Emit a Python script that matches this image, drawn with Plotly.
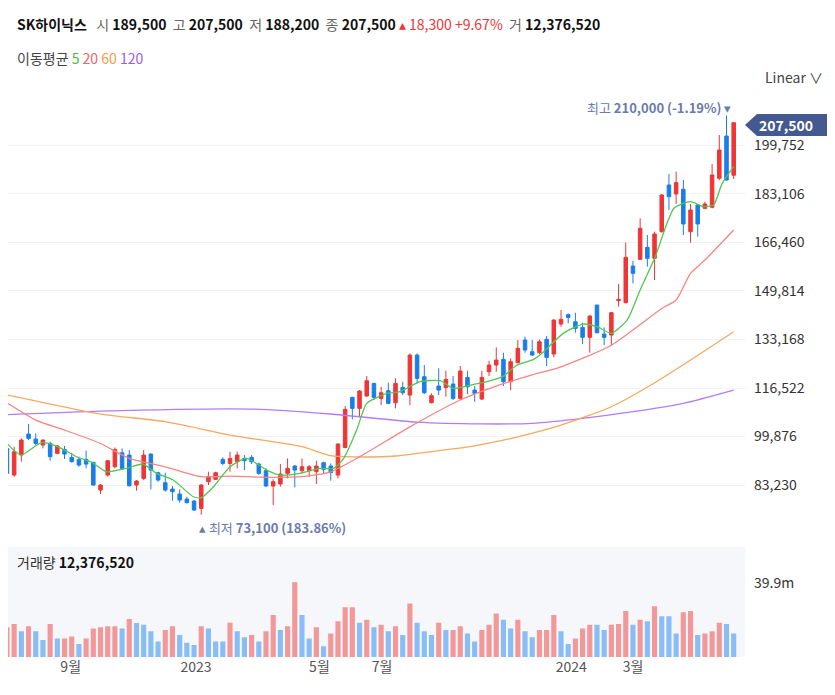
import plotly.graph_objects as go
import pandas as pd

start = pd.Timestamp("2022-06-24")
opens = [96390,95800,86670,93530,100730,99020,96960,97530,94100,95470,92730,92045,92045,91020,81530,86670,89530,94330,93530,83245,85530,93875,87480,84050,81870,80160,78440,77760,75240,84390,
         85200,92045,90670,91245,92390,92730,90445,88160,82900,83590,87250,89760,88160,88160,87820,90900,89760,86670,96160,113300,109530,113760,118100,112960,115590,111480,116730,114100,127820,120395,
         111480,117200,116730,117880,112960,120165,115820,112740,122110,124400,126340,118680,125195,132970,128970,128625,133200,128170,138455,141655,139255,137310,133885,144970,135025,134685,146470,145790,158360,160650,
         164760,160990,170140,186140,183050,184660,170140,179280,178140,178480,188430,202940,189500]
highs = [97500,96600,96400,99245,104160,100960,98900,98100,96960,96620,94330,92960,95020,91245,83590,91820,96160,95820,95250,84960,95250,94100,87820,87480,82900,81760,79240,78100,83590,87820,
         87820,92730,94675,94675,93530,93530,90900,88960,85200,90445,92390,90100,92390,90100,91590,91245,90670,97530,110330,113530,115820,120620,118330,116960,118330,119820,118670,128390,128390,124400,
         114680,123250,122450,120620,124055,122450,117200,122450,125880,130460,128625,126680,132970,134115,132970,133200,134340,140055,143260,142110,142340,138910,141430,144970,137310,142570,152190,166360,160190,174710,
         168990,170140,183050,189910,190710,187850,179630,179630,180420,193340,203280,210000,207500]
lows = [86000,86700,86100,91240,98675,96960,95820,91590,93875,92160,91000,89530,88960,83020,80160,86100,88960,88390,82670,81300,84960,81760,84390,80960,77870,77190,76960,74440,73100,83245,
        84960,90100,87820,88960,88390,90445,86670,82670,76390,82670,85530,82440,87480,86100,83590,87250,84740,85530,95820,105760,106450,113530,112390,110670,111020,109530,114100,110670,118100,114450,
        111250,114110,113540,112390,112390,114450,111820,112390,120620,122110,117200,115820,124970,128625,127480,128170,124055,127025,137540,138680,135480,131600,128625,135255,131255,131255,144410,145560,152420,160420,
        158140,153560,169800,177570,179630,168990,166360,168420,177800,178140,187850,187620,188200]
closes = [87245,87250,94675,98675,99245,97530,98675,92960,96620,93875,91245,90100,90445,83245,83245,91590,95475,88960,83020,84620,93530,88390,84960,81530,80960,78100,77190,74670,83245,86100,
          87480,90670,92390,93530,91590,91245,87250,82900,84390,87020,88960,88390,89530,89530,89760,88620,87480,97300,109190,109530,115475,119020,113300,114900,111250,118100,114900,127820,119820,114910,
          113880,115820,119480,112960,122340,116960,114680,120165,124400,126110,118680,125540,130115,129545,127825,132400,127025,139825,140055,140740,136970,133885,141200,135480,133885,142340,146930,161335,155850,171280,
          160990,169340,182710,182140,186940,172770,177570,172770,179630,189570,198140,187850,207500]
volumes_m = [15.3,16,17.8,13.8,16.5,13.8,9.2,17.8,9.9,9.9,11.1,7,9.9,15.3,16,16.5,16.5,15.3,20.5,18.3,17.3,13.8,8.4,14.6,16.5,11.9,7.7,6.5,16.5,15.3,
             8.4,8.4,18.5,13.8,10.6,11.9,8.4,13.8,22.6,14.6,16.5,40.3,22.6,9.9,16,5.8,12.6,19.2,26.8,26.8,18.5,20,16,17.3,13.8,16.5,11.9,28.8,18.5,13.8,
             11.9,18.5,14.6,14.6,16.5,12.6,8.4,14.6,17.3,23.4,20,15.3,20,13.8,10.6,14.6,14.6,22.6,13.8,7,9.9,15.3,17.3,17.3,14.6,17.3,17.8,24.8,17.3,20,
             19.2,27.3,21.9,21.9,12.6,24.1,24.8,11.9,12.6,13.8,18.5,17.8,12.6]
vol_dir = ["d","u","u","d","u","d","d","u","d","u","u","d","u","u","u","u","u","d","u","d","d","d","d","u","u","d","d","d","u","d",
           "d","d","u","d","d","u","d","u","u","d","u","u","d","d","u","d","u","u","u","u","d","u","d","u","d","u","d","u","d","d",
           "d","u","d","u","u","d","d","u","u","u","d","d","u","d","d","u","u","u","d","d","u","u","u","d","d","u","u","u","d","u",
           "d","u","d","d","d","u","u","d","u","u","u","d","d"]

ma5_idx = [0,1.9,3,5.8,7.9,10.7,12.9,14.8,17.6,19.9,21.8,24.1,26.9,28,29.7,32,34.3,37.1,38.9,41.7,44.5,46.4,47.8,49.6,51,53.8,55.6,58.4,61.2,63,65.4,67.7,70,71.9,74.2,75.6,78.3,81.1,83,85,87.2,89,91.1,93.7,96,97.8,99.2,100.4,102]
ma5_val = [100390,95250,93530,97760,96620,92960,90900,87820,88960,90450,87250,84960,79240,78900,82670,89530,92390,88390,86670,87250,88960,88960,92390,102100,111250,114680,115250,118680,119020,116400,117540,118680,120620,124400,126340,128970,135255,138450,137540,135275,139850,150140,161560,178140,180420,178710,179280,186710,192430]
ma20_idx = [0,5,9,14,18,23,28,32,37,42,46,50,57,64,69,74,78,85,92,94,96,98,102]
ma20_val = [112960,105500,102100,97500,92400,89500,86100,86300,85900,86100,87800,92900,103200,112400,117200,121000,123800,131200,143800,146700,155800,160400,170700]
ma60_idx = [0,14,23,32,42,46,49,55,58,66,72,78,85,92,102]
ma60_val = [114700,107600,105000,100400,96400,93300,92900,93200,94100,96700,99800,103800,110100,119800,135800]
ma120_idx = [0,14,35,46,58,67,74,81,88,95,102]
ma120_val = [107250,108600,109300,107600,104800,104200,104400,106100,108400,111250,115800]

price_ticks = [83230, 99876, 116522, 133168, 149814, 166460, 183106, 199752]
month_ticks = ["2022-09-01", "2023-01-01", "2023-05-01", "2023-07-01", "2024-01-01", "2024-03-01"]
month_labels = ["9월", "2023", "5월", "7월", "2024", "3월"]

dates = [start + pd.Timedelta(weeks=i) for i in range(len(opens))]
def to_date(idx):
    return [start + pd.Timedelta(days=7 * v) for v in idx]

RED, BLUE = "#ef3535", "#1a7ee8"
fig = go.Figure()
fig.add_trace(go.Candlestick(x=dates, open=opens, high=highs, low=lows, close=closes,
    increasing=dict(line=dict(color=RED, width=1), fillcolor=RED),
    decreasing=dict(line=dict(color=BLUE, width=1), fillcolor=BLUE),
    whiskerwidth=0, xaxis="x", yaxis="y", showlegend=False))
for idx, val, col in [(ma120_idx, ma120_val, "#b27cf4"), (ma60_idx, ma60_val, "#f7a85e"),
                      (ma20_idx, ma20_val, "#f58585"), (ma5_idx, ma5_val, "#52c652")]:
    fig.add_trace(go.Scatter(x=to_date(idx), y=val, mode="lines", line=dict(color=col, width=1.3, shape="spline", smoothing=0.6),
                             xaxis="x", yaxis="y", showlegend=False, hoverinfo="skip"))
fig.add_trace(go.Bar(x=dates, y=volumes_m, marker_color=["#f29898" if d == "u" else "#88bdf5" for d in vol_dir],
                     marker_line_width=0, width=5 * 24 * 3600 * 1000, xaxis="x2", yaxis="y2", showlegend=False))

OFF = 8
xr = [start + pd.Timedelta(days=8), dates[-1] + pd.Timedelta(days=11)]
fig.update_layout(
    width=835 - OFF, height=695 - OFF, margin=dict(l=0, r=90, t=95 - OFF, b=38),
    paper_bgcolor="white", plot_bgcolor="white",
    font=dict(family="Noto Sans CJK KR, Noto Sans", color="#333"),
    xaxis=dict(range=xr, showticklabels=False, showgrid=False, rangeslider=dict(visible=False), anchor="y", zeroline=False),
    xaxis2=dict(range=xr, matches="x", tickvals=month_ticks, ticktext=month_labels, showgrid=False, anchor="y2",
                tickfont=dict(size=14, color="#555"), ticks=""),
    yaxis=dict(domain=[0.208, 1], range=[64365, 217000], side="right", tickvals=price_ticks,
               ticktext=[f"{v:,}" for v in price_ticks], gridcolor="#f1f2f4", tickfont=dict(size=14, color="#333"),
               zeroline=False, ticklabelstandoff=8),
    yaxis2=dict(domain=[0, 0.196], range=[0, 59.3], side="right", tickvals=[39.9], ticktext=["39.9m"],
                showgrid=False, tickfont=dict(size=14, color="#333"), zeroline=False, ticklabelstandoff=8),
    bargap=0.2,
)
fig.add_shape(type="rect", xref="x2 domain", yref="y2 domain", x0=0, x1=1, y0=0, y1=1,
              fillcolor="#f6f7fb", line_width=0, layer="below")

def ann(text, x, y, size=14, xanchor="left", color="#333", **kw):
    fig.add_annotation(text=text, x=x, y=y, xref="paper", yref="paper", showarrow=False,
                       xanchor=xanchor, yanchor="middle", font=dict(size=size, color=color), **kw)

def py(p):
    return 1 - (p - 95) / 562
def px(p):
    return (p - OFF) / 737

g = "<span style='color:#666'>"
ann(f"<b style='color:#111'>SK하이닉스</b>   {g}시</span> <b>189,500</b>  {g}고</span> <b>207,500</b>  {g}저</span> <b>188,200</b>  "
    f"{g}종</span> <b>207,500</b> <span style='color:#ef3535'>▴ 18,300 +9.67%</span>  {g}거</span> <b>12,376,520</b>",
    px(15), py(24), size=14, color="#111")
ann("이동평균 <span style='color:#4cb84c'>5</span> <span style='color:#f06565'>20</span> "
    "<span style='color:#f29a4a'>60</span> <span style='color:#9a5cf0'>120</span>", px(15), py(58), size=14, color="#444")
ann("Linear ∨", px(825), py(77), size=14, color="#444", xanchor="right")
ann("최고 <b>210,000 (-1.19%)</b> ▾", px(733), py(108), size=13, xanchor="right", color="#6b7bab")
ann("▴ 최저 <b>73,100 (183.86%)</b>", px(197), py(527), size=13, color="#6b7bab")
ann("거래량 <b style='color:#111'>12,376,520</b>", px(15), py(562), size=14, color="#333")
ann("<b>207,500</b>", px(757), py(125), size=14, color="white")
fig.add_shape(type="path", xref="paper", yref="paper",
              path=f"M {px(745)} {py(125)} L {px(757)} {py(114)} L {px(835)} {py(114)} L {px(835)} {py(136)} L {px(757)} {py(136)} Z",
              fillcolor="#44598f", line_width=0, layer="below")
fig.write_html("out.html")
